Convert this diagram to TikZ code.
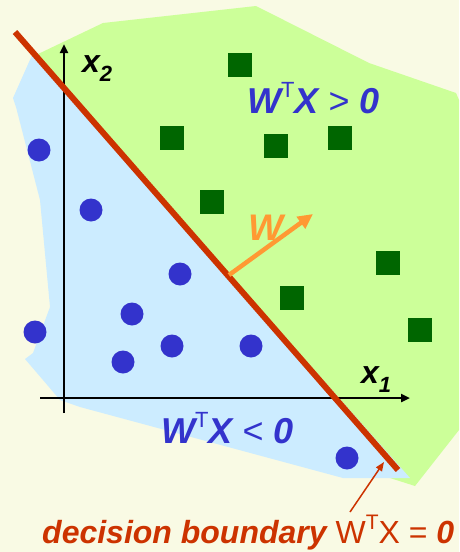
\documentclass[tikz,border=0pt]{standalone}
\usepackage{fontspec}
\setmainfont{Liberation Sans}
\usetikzlibrary{arrows.meta}
\definecolor{bgc}{RGB}{249,250,228}
\definecolor{greenreg}{RGB}{204,255,153}
\definecolor{bluereg}{RGB}{204,236,255}
\definecolor{sqgreen}{RGB}{0,102,0}
\definecolor{dotblue}{RGB}{51,51,204}
\definecolor{bred}{RGB}{204,51,0}
\definecolor{worange}{RGB}{255,153,51}
\tikzset{
  sq/.style={fill=sqgreen, draw=none, minimum size=24pt, inner sep=0pt, rectangle},
  dot/.style={fill=dotblue, draw=none, circle, minimum size=23pt, inner sep=0pt},
  axis/.style={line width=2.6pt, -{Triangle[length=9pt,width=8pt]}},
  lbl/.style={inner sep=0pt, anchor=base west},
}
\newcommand{\bi}{\bfseries\itshape}
\begin{document}
\begin{tikzpicture}[x=1pt,y=-1pt]
\fill[bgc] (0,0) rectangle (459,552);
\useasboundingbox (0,0) rectangle (459,552);
% regions
\fill[greenreg] (36,55) -- (103,23) -- (256,6) -- (369,63) -- (456,93) -- (459,100) -- (459,430) -- (415,486) -- (390,478) -- cycle;
\fill[bluereg] (33,53) -- (13,98) -- (16,107) -- (40,200) -- (50,307) -- (33,353) -- (25,359) -- (43,380) -- (60,400) -- (80,407) -- (343,478) -- (410,478) -- cycle;
% axes
\coordinate (ybot) at (64,413);
\coordinate (ytop) at (64,44);
\coordinate (xl) at (40,398);
\coordinate (xr) at (410,398);
\draw[axis] (ybot) -- (ytop);
\draw[axis] (xl) -- (xr);
% boundary
\coordinate (b1) at (15,32);
\coordinate (b2) at (398,470);
\draw[bred, line width=6pt] (b1) -- (b2);
% squares
\foreach \n/\p in {s1/{(240,65)}, s2/{(172,138)}, s3/{(276,146)}, s4/{(340,138)}, s5/{(212,202)}, s6/{(388,263)}, s7/{(292,298)}, s8/{(420,330)}}
  \node[sq] (\n) at \p {};
% dots
\foreach \n/\p in {d1/{(39,150)}, d2/{(91,210)}, d3/{(180,274)}, d4/{(132,314)}, d5/{(35,332)}, d6/{(172,346)}, d7/{(123,362)}, d8/{(251,346)}, d9/{(347,458)}}
  \node[dot] (\n) at \p {};
% W vector
\coordinate (w0) at (229,275);
\coordinate (w1) at (313,214);
\draw[worange, line width=4.5pt, -{Triangle[length=15pt,width=14pt]}] (w0) -- (w1);
\node[lbl, text=worange] (wl) at (248,240) {\fontsize{37}{40}\selectfont\bi W};
% axis labels
\node[lbl] (x2) at (82,72) {\fontsize{32}{36}\selectfont\bi x\raisebox{-0.3em}{\fontsize{22}{24}\selectfont\bi 2}};
\node[lbl] (x1) at (361,383) {\fontsize{32}{36}\selectfont\bi x\raisebox{-0.3em}{\fontsize{22}{24}\selectfont\bi 1}};
% region labels
\node[lbl, text=dotblue] (pos) at (247,113) {\fontsize{36}{40}\selectfont{\bi W}\raisebox{0.42em}{\fontsize{22}{24}\selectfont T}{\bi X} > {\bi 0}};
\node[lbl, text=dotblue] (neg) at (161,443) {\fontsize{36}{40}\selectfont{\bi W}\raisebox{0.42em}{\fontsize{22}{24}\selectfont T}{\bi X} < {\bi 0}};
% decision boundary label
\node[lbl, text=bred] (db) at (42,543) {\fontsize{32}{36}\selectfont{\bi decision boundary} W\raisebox{0.42em}{\fontsize{21}{23}\selectfont T}X = {\bi 0}};
\coordinate (dbarr) at (350,512);
\coordinate (dbtip) at (384,462);
\draw[bred, line width=1.5pt, -{Triangle[length=9pt,width=7pt]}] (dbarr) -- (dbtip);
\end{tikzpicture}
\end{document}
